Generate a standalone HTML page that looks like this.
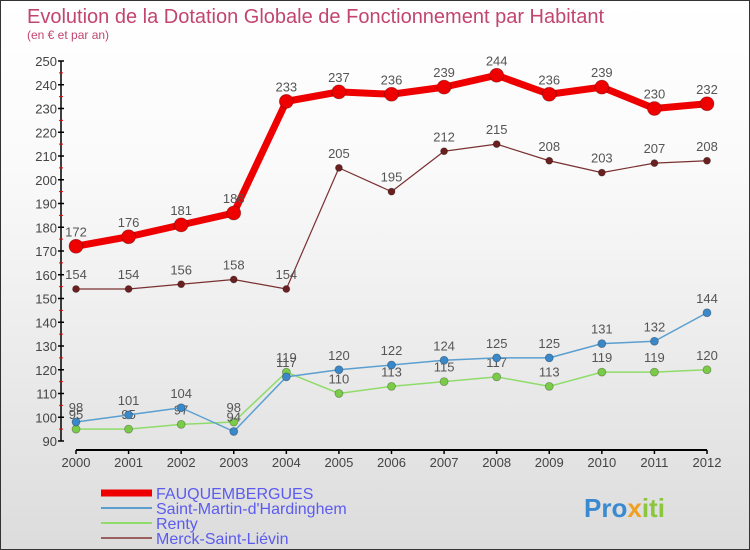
<!DOCTYPE html>
<html><head><meta charset="utf-8"><style>
body{margin:0;}
#c{width:748px;height:548px;border:1px solid #333;background:linear-gradient(#fff,#fafafa 30%,#dcdcdc);position:relative;font-family:"Liberation Sans",sans-serif;overflow:hidden}
</style></head><body>
<div id="c">
<svg id="s" width="748" height="548">
<text x="26" y="22" font-size="20" fill="#c2456e">Evolution de la Dotation Globale de Fonctionnement par Habitant</text>
<text x="26" y="38" font-size="12" fill="#c2456e">(en € et par an)</text>
<g id="g"></g>
<g>
<line x1="100" y1="492" x2="151" y2="492" stroke="#e00" stroke-width="7"/>
<text x="155" y="498" font-size="16" fill="#5b5bf0">FAUQUEMBERGUES</text>
<line x1="100" y1="507" x2="151" y2="507" stroke="#5a9fd0" stroke-width="2"/>
<text x="155" y="513" font-size="16" fill="#5b5bf0">Saint-Martin-d'Hardinghem</text>
<line x1="100" y1="522" x2="151" y2="522" stroke="#8fdc6a" stroke-width="2"/>
<text x="155" y="528" font-size="16" fill="#5b5bf0">Renty</text>
<line x1="100" y1="537" x2="151" y2="537" stroke="#9a6060" stroke-width="2"/>
<text x="155" y="543" font-size="16" fill="#5b5bf0">Merck-Saint-Liévin</text>
</g>
<text x="583" y="516" font-size="26" font-weight="bold" fill="#3a8ad0">Pro<tspan fill="#f0a020">x</tspan><tspan fill="#8cc63e">iti</tspan></text>
</svg>
</div>
<script>
const years=[2000,2001,2002,2003,2004,2005,2006,2007,2008,2009,2010,2011,2012];
const fauq=[172,176,181,186,233,237,236,239,244,236,239,230,232];
const stMartin=[98,101,104,94,117,120,122,124,125,125,131,132,144];
const renty=[95,95,97,98,119,110,113,115,117,113,119,119,120];
const merck=[154,154,156,158,154,205,195,212,215,208,203,207,208];
const yTicks=[90,100,110,120,130,140,150,160,170,180,190,200,210,220,230,240,250];
const NS="http://www.w3.org/2000/svg";
const g=document.getElementById('g');
const X=i=>75+i*(706-75)/(years.length-1);
const Y=v=>440-(v-90)*2.375;
function mk(t,a,p){const e=document.createElementNS(NS,t);for(const k in a)e.setAttribute(k,a[k]);(p||g).appendChild(e);return e;}
let ax=mk('line',{x1:60,y1:60,x2:60,y2:440,stroke:'#000','stroke-width':1.5});


yTicks.forEach((v,i)=>{
 let t=mk('line',{x1:57,y1:Y(v),x2:63,y2:Y(v),stroke:'#000','stroke-width':1.5});
 
 
 if(i<yTicks.length-1){let m=mk('line',{x1:58,y1:Y(v+5),x2:62,y2:Y(v+5),stroke:'#e00','stroke-width':1});
 
 }
 let l=mk('text',{x:56,y:Y(v)+5,'font-size':13,fill:'#444','text-anchor':'end'});l.textContent=v;
 
 
});
let xa=mk('line',{x1:75,y1:449,x2:706,y2:449,stroke:'#000','stroke-width':2});


years.forEach((y,i)=>{
 let t=mk('line',{x1:X(i),y1:449,x2:X(i),y2:453,stroke:'#000','stroke-width':1.5});
 
 
 let l=mk('text',{x:X(i),y:466,'font-size':13,fill:'#444','text-anchor':'middle'});l.textContent=y;
 
 
});
function series(d,col,w,r,name,dot){
 let pts=d.map((v,i)=>X(i)+','+Y(v)).join(' ');
 let p=mk('polyline',{points:pts,fill:'none',stroke:col,'stroke-width':w,'stroke-linejoin':'round'});
 
 
 d.forEach((v,i)=>{
  let c=mk('circle',{cx:X(i),cy:Y(v),r:r,fill:dot||col,stroke:'rgba(0,0,0,0.3)','stroke-width':0.8});
  
  
  let l=mk('text',{x:X(i),y:Y(v)-10,'font-size':13,fill:'#555','text-anchor':'middle'});l.textContent=v;
  
  
 });
}
series(merck,'#7a3030',1.2,3.5,'merck','#6a2020');
series(renty,'#8fdc6a',1.5,4,'renty','#7acc48');
series(stMartin,'#5a9fd0',1.5,4,'saint-martin','#3a88c8');
series(fauq,'#ee0000',7,7,'fauquembergues');
</script>
</body></html>
